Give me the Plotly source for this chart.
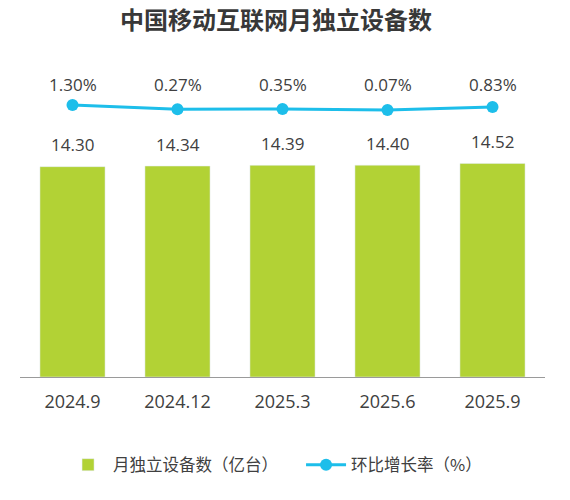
import plotly.graph_objects as go

# data
periods = ["2024.9", "2024.12", "2025.3", "2025.6", "2025.9"]
devices = [14.30, 14.34, 14.39, 14.40, 14.52]      # 亿台
growth = [1.30, 0.27, 0.35, 0.07, 0.83]            # %

bar_name = "月独立设备数（亿台）"
line_name = "环比增长率（%）"

green = "#B2D235"
cyan = "#1DBEEA"
txt = "#404040"
fnt = "Open Sans, Noto Sans CJK SC, sans-serif"

fig = go.Figure()
fig.add_trace(go.Bar(x=periods, y=devices, name=bar_name, marker_color=green,
                     width=0.62, hoverinfo="skip"))
fig.add_trace(go.Scatter(x=periods, y=growth, name=line_name, yaxis="y2",
                         mode="lines+markers", line=dict(color=cyan, width=3),
                         marker=dict(color=cyan, size=12)))

# value labels (x given as category index: "2024.9" etc. look numeric to annotations)
for i, v in enumerate(devices):
    fig.add_annotation(x=i, y=v, text=f"{v:.2f}", showarrow=False, yshift=22,
                       yanchor="middle", font=dict(size=17, color=txt, family=fnt))
for i, g in enumerate(growth):
    fig.add_annotation(x=i, y=0.8665, yref="paper", text=f"{g:.2f}%", showarrow=False,
                       yanchor="middle", font=dict(size=17, color=txt, family=fnt))

fig.update_layout(
    width=570, height=500,
    margin=dict(l=12, r=33, t=32, b=131),
    paper_bgcolor="white", plot_bgcolor="white",
    font=dict(family=fnt, color=txt),
    title=dict(text="<b>中国移动互联网月独立设备数</b>", x=0.470, xanchor="center",
               y=0.975, yanchor="middle", yref="container",
               font=dict(size=24, color="#383838", family="Noto Sans CJK SC")),
    xaxis=dict(type="category", showline=True, linecolor="#9a9a9a", linewidth=1.2,
               ticks="outside", ticklen=8, tickcolor="rgba(0,0,0,0)",
               showgrid=False, tickfont=dict(size=18, color=txt)),
    yaxis=dict(range=[0, 22.91], visible=False, showgrid=False),
    yaxis2=dict(range=[-65.5, 17.27], overlaying="y", visible=False, showgrid=False),
    showlegend=True,
    legend=dict(orientation="h", x=0.082, xanchor="left", y=-0.261, yanchor="middle",
                font=dict(size=16.5, color=txt, family="Noto Sans CJK SC"),
                itemwidth=40, entrywidth=183, tracegroupgap=0),
)

fig.write_html("out.html")
